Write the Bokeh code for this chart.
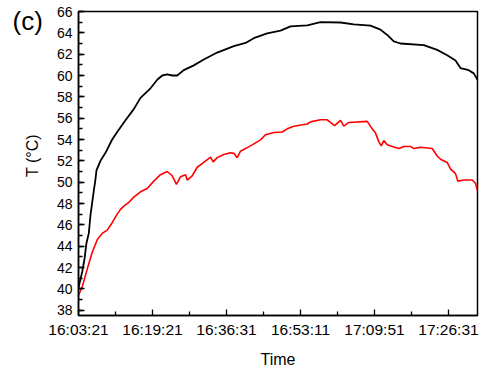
import math
from bokeh.plotting import figure
from bokeh.models import FixedTicker, Range1d, Label
from bokeh.embed import file_html
from bokeh.resources import INLINE

# sample index (1000 samples between labelled ticks)
black_x = [0, 50, 81, 108, 139, 162, 199, 230, 243, 297, 365, 455, 523, 635, 747, 838,
           973, 1064, 1131, 1199, 1266, 1334, 1423, 1558, 1693, 1874, 2099, 2257, 2369,
           2550, 2730, 2865, 3091, 3270, 3541, 3720, 3946, 4081, 4172, 4261, 4351, 4666,
           4847, 4982, 5095, 5162, 5274, 5342, 5392]
black_T = [40.1, 41.6, 42.8, 44.3, 45.2, 46.9, 48.8, 50.3, 51.1, 52.0, 52.75, 54.0, 54.7,
           55.8, 56.85, 57.9, 58.8, 59.6, 60.0, 60.1, 60.0, 60.0, 60.5, 60.95, 61.5, 62.15,
           62.75, 63.05, 63.5, 63.95, 64.2, 64.6, 64.7, 65.0, 64.97, 64.8, 64.67, 64.3,
           63.8, 63.2, 63.0, 62.85, 62.4, 61.9, 61.4, 60.7, 60.5, 60.2, 59.6]

red_x = [0, 50, 118, 185, 253, 320, 388, 455, 523, 568, 612, 680, 747, 838, 928, 1018,
         1108, 1199, 1266, 1324, 1378, 1446, 1469, 1537, 1604, 1693, 1784, 1820, 1874,
         1964, 2054, 2099, 2145, 2189, 2324, 2460, 2527, 2639, 2753, 2820, 2910, 3091,
         3135, 3270, 3361, 3405, 3460, 3541, 3585, 3653, 3902, 3969, 4014, 4058, 4091,
         4126, 4172, 4239, 4329, 4396, 4487, 4531, 4622, 4780, 4847, 4892, 4982, 5027,
         5095, 5126, 5207, 5320, 5365, 5392]
red_T = [39.4, 40.2, 41.85, 43.4, 44.6, 45.2, 45.5, 46.2, 47.0, 47.45, 47.75, 48.1, 48.6,
         49.1, 49.4, 50.1, 50.7, 51.0, 50.6, 49.8, 50.5, 50.7, 50.2, 50.6, 51.4, 51.85,
         52.35, 51.9, 52.3, 52.6, 52.75, 52.7, 52.3, 52.9, 53.4, 53.97, 54.45, 54.65, 54.7,
         55.0, 55.25, 55.45, 55.65, 55.85, 55.85, 55.6, 55.3, 55.8, 55.25, 55.6, 55.7,
         55.0, 54.6, 53.8, 53.4, 53.9, 53.5, 53.35, 53.15, 53.35, 53.35, 53.15, 53.27,
         53.15, 52.45, 52.15, 51.85, 51.25, 50.8, 50.1, 50.2, 50.2, 49.9, 49.2]

x_ticks = [0, 1000, 2000, 3000, 4000, 5000]
x_labels = ["16:03:21", "16:19:21", "16:36:31", "16:53:11", "17:09:51", "17:26:31"]
y_ticks = list(range(38, 67, 2))

FONT = "Liberation Sans"

p = figure(width=492, height=370, output_backend="svg", toolbar_location=None,
           x_range=Range1d(0, 5392), y_range=Range1d(37.5, 66),
           min_border_left=78, min_border_right=15, min_border_top=11, min_border_bottom=45)
p.xgrid.visible = False
p.ygrid.visible = False
p.outline_line_color = "black"
p.outline_line_width = 1.5

p.line(black_x, black_T, line_color="black", line_width=1.8)
p.line(red_x, red_T, line_color="red", line_width=1.6)

p.xaxis.ticker = FixedTicker(ticks=x_ticks, minor_ticks=[500 + 1000 * i for i in range(6)])
p.xaxis.major_label_overrides = {t: l for t, l in zip(x_ticks, x_labels)}
p.yaxis.ticker = FixedTicker(ticks=y_ticks, minor_ticks=list(range(37, 67, 1)))

for ax in (p.xaxis[0], p.yaxis[0]):
    ax.axis_line_color = "black"
    ax.axis_line_width = 1.5
    ax.major_tick_in = 6
    ax.major_tick_out = 0
    ax.minor_tick_in = 4
    ax.minor_tick_out = 0
    ax.major_tick_line_width = 1.3
    ax.minor_tick_line_width = 1.3
    ax.major_label_text_font = FONT
    ax.major_label_text_color = "black"
    ax.axis_label_text_font = FONT
    ax.axis_label_text_font_style = "normal"
    ax.axis_label_text_color = "black"

p.xaxis.axis_label = "Time"
p.xaxis.major_label_text_font_size = "15.5px"
p.yaxis.major_label_text_font_size = "14px"
p.xaxis.axis_label_text_font_size = "16px"
p.xaxis.major_label_standoff = 5
p.yaxis.major_label_standoff = 6
p.xaxis.axis_label_standoff = 10

# y-axis title and panel letter, drawn in the left border
p.add_layout(Label(x=-4, y=160, x_units="screen", y_units="screen", text="T (°C)",
                   angle=math.pi / 2, text_font=FONT, text_font_size="16px",
                   text_color="black", text_baseline="middle", text_align="center"), "left")
p.add_layout(Label(x=6, y=295, x_units="screen", y_units="screen", text="(c)",
                   text_font=FONT, text_font_size="26px", text_color="black",
                   text_baseline="alphabetic", text_align="left"), "left")

open("out.html", "w").write(file_html(p, INLINE))
